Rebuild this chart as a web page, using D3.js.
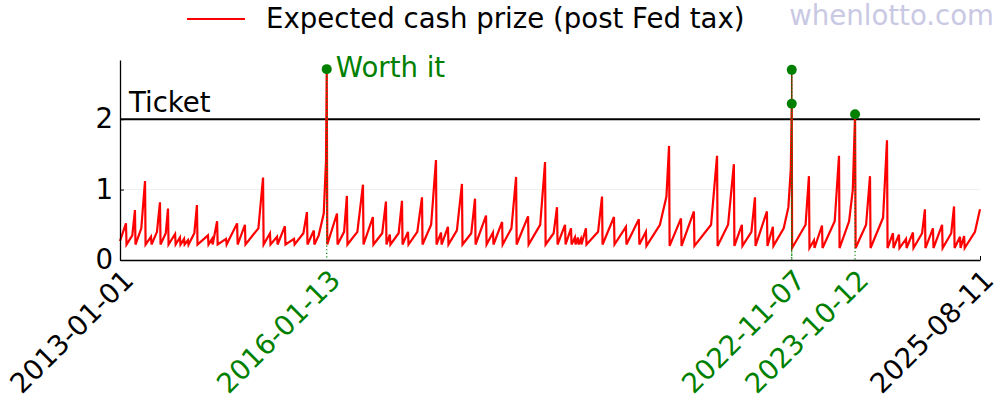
<!DOCTYPE html>
<html lang="en">
<head>
<meta charset="utf-8">
<title>Expected cash prize (post Fed tax)</title>
<script src="https://cdn.jsdelivr.net/npm/d3@7"></script>
<style>
  body { margin: 0; background: #fff; }
  svg { font-family: "DejaVu Sans", sans-serif; }
</style>
</head>
<body>
<script>
// draw dates and expected cash prize per $ of ticket
const drawDates = [
  "2013-01-01","2013-02-02","2013-02-05","2013-03-08","2013-03-22","2013-03-25","2013-04-25","2013-05-15","2013-05-18","2013-06-16","2013-06-19","2013-07-18","2013-08-03","2013-08-06","2013-09-03","2013-09-15","2013-09-18","2013-10-23","2013-10-26","2013-11-18","2013-11-21","2013-12-10","2013-12-13","2013-12-31",
  "2014-01-03","2014-02-03","2014-02-17","2014-02-20","2014-04-17","2014-04-20","2014-05-09","2014-05-12","2014-06-05","2014-06-08","2014-07-23","2014-07-26","2014-09-20","2014-09-23","2014-11-01","2014-11-04",
  "2015-01-12","2015-02-06","2015-02-09","2015-03-15","2015-03-18","2015-04-22","2015-04-25","2015-06-03","2015-06-06","2015-07-22","2015-07-25","2015-09-10","2015-09-29","2015-10-02","2015-11-05","2015-11-08","2015-12-01","2015-12-28",
  "2016-01-09","2016-01-13","2016-01-16","2016-03-08","2016-03-11","2016-04-15","2016-04-30","2016-05-03","2016-06-25","2016-07-25","2016-07-28","2016-09-16","2016-09-19","2016-11-05","2016-11-25","2016-11-28","2016-12-16","2016-12-19",
  "2017-02-01","2017-02-19","2017-02-22","2017-03-23","2017-03-26","2017-05-12","2017-06-06","2017-06-09","2017-07-25","2017-08-20","2017-08-23","2017-09-16","2017-09-19","2017-10-23","2017-10-26","2017-12-10",
  "2018-01-06","2018-01-09","2018-02-25","2018-03-17","2018-03-20","2018-05-15","2018-05-18","2018-06-21","2018-06-24","2018-08-09","2018-08-12","2018-09-28","2018-10-23","2018-10-26","2018-12-26","2018-12-29",
  "2019-03-01","2019-03-27","2019-03-30","2019-05-12","2019-05-30","2019-06-02","2019-07-12","2019-07-15","2019-08-13","2019-08-16","2019-09-03","2019-09-06","2019-09-19","2019-09-22","2019-10-05","2019-10-08","2019-11-01","2019-11-04",
  "2020-01-05","2020-01-26","2020-01-29","2020-03-30","2020-04-02","2020-06-02","2020-06-05","2020-08-10","2020-08-13","2020-09-17","2020-09-20","2020-12-01",
  "2021-01-05","2021-01-19","2021-01-22","2021-03-24","2021-03-27","2021-06-01","2021-06-04","2021-09-01","2021-10-03","2021-10-06","2021-12-01",
  "2022-01-01","2022-01-04","2022-02-13","2022-02-16","2022-04-05","2022-04-24","2022-04-27","2022-06-27","2022-06-30","2022-07-29","2022-08-01","2022-09-25","2022-10-20","2022-11-02","2022-11-07","2022-11-09",
  "2023-01-20","2023-02-07","2023-02-10","2023-03-06","2023-03-09","2023-04-18","2023-04-21","2023-06-25","2023-07-18","2023-07-21","2023-09-10","2023-09-30","2023-10-12","2023-10-15","2023-12-10","2023-12-31",
  "2024-01-03","2024-03-10","2024-03-31","2024-04-03","2024-05-02","2024-05-05","2024-06-03","2024-06-06","2024-07-11","2024-07-14","2024-08-17","2024-08-20","2024-10-05","2024-10-20","2024-10-23","2024-12-02","2024-12-05",
  "2025-01-20","2025-01-23","2025-03-10","2025-03-25","2025-03-28","2025-04-26","2025-04-29","2025-05-18","2025-05-21","2025-07-15","2025-08-11"
]
const cashPrize = [
  0.27,0.52,0.22,0.35,0.71,0.22,0.45,1.12,0.22,0.33,0.22,0.40,0.82,0.22,0.38,0.73,0.22,0.37,0.22,0.32,0.22,0.30,0.22,0.28,
  0.22,0.38,0.78,0.22,0.35,0.22,0.30,0.22,0.55,0.22,0.30,0.22,0.52,0.22,0.50,0.22,
  0.45,1.17,0.22,0.38,0.22,0.33,0.22,0.48,0.22,0.30,0.22,0.38,0.68,0.22,0.42,0.22,0.35,0.66,
  1.40,2.71,0.22,0.66,0.22,0.40,0.91,0.22,0.40,1.07,0.22,0.61,0.22,0.38,0.83,0.22,0.36,0.22,
  0.38,0.84,0.22,0.40,0.22,0.40,0.89,0.22,0.50,1.42,0.22,0.39,0.22,0.47,0.22,0.42,
  1.08,0.22,0.38,0.87,0.22,0.63,0.22,0.39,0.22,0.54,0.22,0.45,1.18,0.22,0.62,0.22,
  0.50,1.39,0.22,0.38,0.75,0.22,0.50,0.22,0.45,0.22,0.32,0.22,0.32,0.22,0.30,0.22,0.45,0.22,
  0.40,0.90,0.22,0.61,0.22,0.47,0.22,0.58,0.22,0.40,0.20,0.50,
  0.90,1.62,0.20,0.59,0.20,0.69,0.20,0.50,1.48,0.20,0.50,
  1.36,0.20,0.50,0.20,0.40,0.89,0.20,0.69,0.20,0.47,0.20,0.45,0.75,1.30,2.22,0.17,
  0.50,1.19,0.17,0.28,0.17,0.49,0.17,0.55,1.48,0.17,0.55,1.00,2.07,0.17,0.50,1.19,
  0.17,0.60,1.70,0.17,0.38,0.17,0.36,0.17,0.30,0.17,0.39,0.17,0.38,0.72,0.17,0.45,0.17,
  0.50,0.17,0.38,0.76,0.17,0.33,0.17,0.34,0.17,0.40,0.72
]

// draws where the expected prize beat the ticket price
const worthDates = ["2016-01-13", "2022-11-07", "2022-11-07", "2023-10-12"]
const worthValues = [2.71, 2.70, 2.22, 2.07]

const tickDates = ["2013-01-01", "2016-01-13", "2022-11-07", "2023-10-12", "2025-08-11"]
const tickColors = ["black", "green", "green", "green", "black"]
const yTicks = [0, 1, 2]
const ticketPrice = 2
const yMax = 2.84

const w = 1000
const h = 400
const fs = 27.6
const parse = d3.timeParse("%Y-%m-%d")

const x = d3.scaleTime()
            .domain([parse(tickDates[0]), parse(tickDates[tickDates.length - 1])])
            .range([120, 980])
const y = d3.scaleLinear().domain([0, yMax]).range([260, 60])

const svg = d3.select("body").append("svg")
              .attr("width", w)
              .attr("height", h)

// faint grid at 1
svg.append("g")
   .selectAll("line")
   .data(yTicks.filter(d => d > 0 && d < ticketPrice))
   .enter()
   .append("line")
   .attr("x1", x.range()[0]).attr("x2", x.range()[1])
   .attr("y1", d => y(d)).attr("y2", d => y(d))
   .attr("stroke", "#eeeeee")
   .attr("stroke-width", 1)

// ticket price line
svg.append("line")
   .attr("x1", x.range()[0]).attr("x2", x.range()[1])
   .attr("y1", y(ticketPrice)).attr("y2", y(ticketPrice))
   .attr("stroke", "black")
   .attr("stroke-width", 2)

svg.append("text")
   .attr("x", 129).attr("y", y(ticketPrice) - 7)
   .attr("font-size", fs)
   .text("Ticket")

// the prize line
const points = drawDates.map((d, i) => [parse(d), cashPrize[i]])
const line = d3.line()
               .x(d => x(d[0]))
               .y(d => y(d[1]))

svg.append("path")
   .datum(points)
   .attr("d", line)
   .attr("fill", "none")
   .attr("stroke", "#ff0000")
   .attr("stroke-width", 2.2)
   .attr("stroke-linejoin", "miter")

// worth-it markers
const worth = worthDates.map((d, i) => [parse(d), worthValues[i]])

// stem between the two 2022 dots
const sameDay = worth.filter(d => +d[0] === +worth[1][0])
svg.append("line")
   .attr("x1", x(sameDay[0][0])).attr("x2", x(sameDay[0][0]))
   .attr("y1", y(d3.max(sameDay, d => d[1]))).attr("y2", y(d3.min(sameDay, d => d[1])))
   .attr("stroke", "#8a2a00")
   .attr("stroke-width", 1.6)

svg.append("g")
   .selectAll("line")
   .data(worth)
   .enter()
   .append("line")
   .attr("x1", d => x(d[0])).attr("x2", d => x(d[0]))
   .attr("y1", d => y(d[1])).attr("y2", y(0) + 1)
   .attr("stroke", "green")
   .attr("stroke-width", 1.2)
   .attr("stroke-dasharray", "1.2,2.4")

svg.append("g")
   .selectAll("circle")
   .data(worth)
   .enter()
   .append("circle")
   .attr("cx", d => x(d[0]))
   .attr("cy", d => y(d[1]))
   .attr("r", 5)
   .attr("fill", "green")

svg.append("text")
   .attr("x", x(worth[0][0]) + 9).attr("y", y(worth[0][1]) + 8)
   .attr("font-size", fs)
   .attr("fill", "green")
   .text("Worth it")

// axes
const yAxis = d3.axisLeft(y)
                .tickValues(yTicks)
                .tickFormat(d3.format("d"))
                .tickSize(-4)
                .tickSizeOuter(0)
                .tickPadding(7)
const gy = svg.append("g").attr("transform", `translate(${x.range()[0]},0)`).call(yAxis)
gy.select(".domain").attr("stroke-width", 1.3)
gy.selectAll("text").attr("font-size", fs).attr("font-family", "DejaVu Sans").attr("fill", "black")

const xAxis = d3.axisBottom(x)
                .tickValues(tickDates.map(parse))
                .tickFormat(d3.timeFormat("%Y-%m-%d"))
                .tickSize(-4)
                .tickSizeOuter(0)
const gx = svg.append("g").attr("transform", `translate(0,${y(0)})`).call(xAxis)
gx.select(".domain").attr("stroke-width", 1.3)
gx.selectAll(".tick line").attr("stroke", (d, i) => tickColors[i] === "black" ? "black" : "none")
gx.selectAll(".tick text")
  .attr("x", 0).attr("y", 0).attr("dy", null)
  .attr("transform", "translate(0,7) rotate(-45)")
  .attr("text-anchor", "end")
  .attr("dominant-baseline", "hanging")
  .attr("font-size", fs)
  .attr("font-family", "DejaVu Sans")
  .attr("fill", (d, i) => tickColors[i])

// legend
svg.append("line")
   .attr("x1", 187).attr("x2", 245)
   .attr("y1", 19).attr("y2", 19)
   .attr("stroke", "#ff0000")
   .attr("stroke-width", 2)
svg.append("text")
   .attr("x", 266).attr("y", 28)
   .attr("font-size", fs)
   .text("Expected cash prize (post Fed tax)")

// watermark
svg.append("text")
   .attr("x", 994).attr("y", 25)
   .attr("text-anchor", "end")
   .attr("font-size", fs)
   .attr("fill", "#c9c9e4")
   .text("whenlotto.com")
</script>
</body>
</html>
